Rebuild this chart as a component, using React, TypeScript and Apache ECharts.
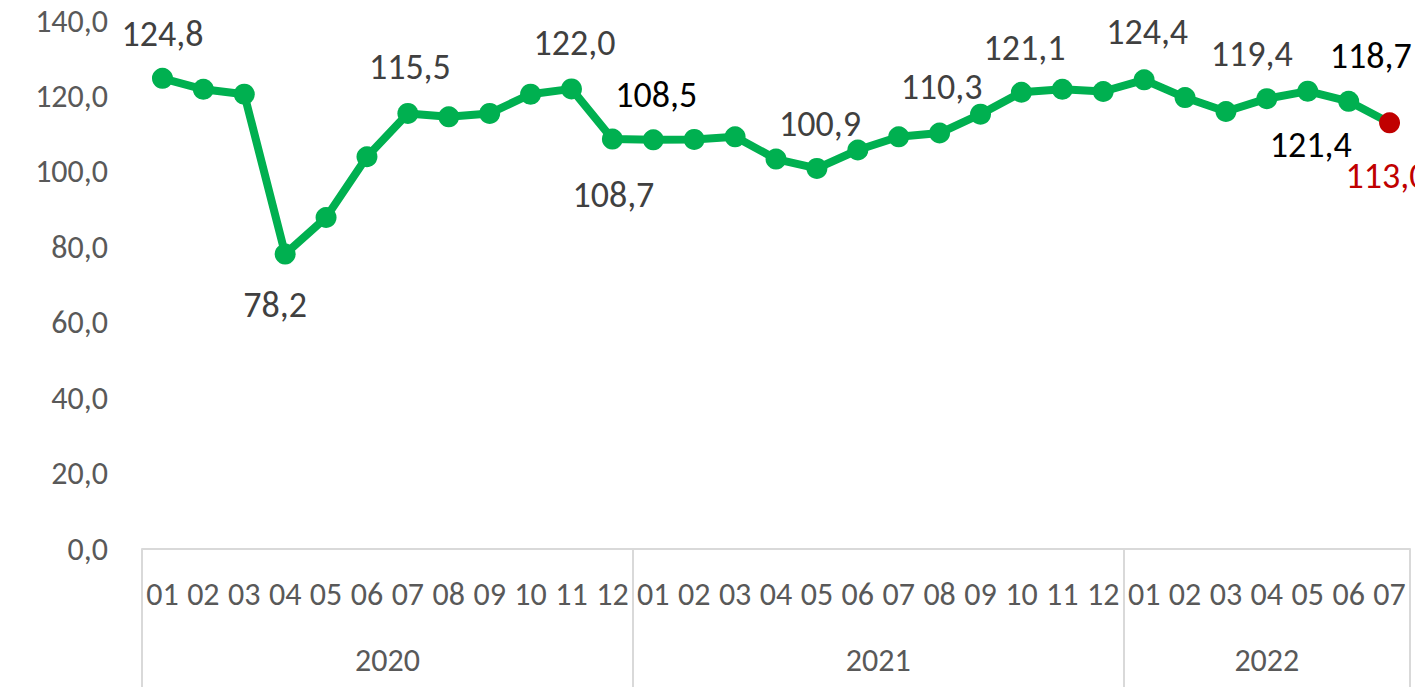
import React, { useEffect, useRef } from "react";
import * as echarts from "echarts";

const months: string[] = [
  "01", "02", "03", "04", "05", "06", "07", "08", "09", "10", "11", "12",
  "01", "02", "03", "04", "05", "06", "07", "08", "09", "10", "11", "12",
  "01", "02", "03", "04", "05", "06", "07",
];
const years: string[] = ["2020", "2021", "2022"];
const yearCounts: number[] = [12, 12, 7];
const values: number[] = [
  124.8, 121.9, 120.6, 78.2, 87.9, 104.0, 115.5, 114.6, 115.5, 120.6, 122.0, 108.7,
  108.5, 108.6, 109.3, 103.4, 100.9, 105.8, 109.3, 110.3, 115.3, 121.1, 121.9, 121.3,
  124.4, 119.7, 116.0, 119.4, 121.4, 118.7, 113.0,
];
const yTicks: number[] = [0, 20, 40, 60, 80, 100, 120, 140];

// label placement (style, not data)
const labelStyle: Record<number, { offset: [number, number]; color: string }> = {
  0: { offset: [0, -44], color: "#404040" },
  3: { offset: [-10, 51], color: "#404040" },
  6: { offset: [2, -46], color: "#404040" },
  10: { offset: [3, -46], color: "#404040" },
  11: { offset: [1, 56], color: "#404040" },
  12: { offset: [3, -45], color: "#000000" },
  16: { offset: [3, -44], color: "#404040" },
  19: { offset: [2, -46], color: "#404040" },
  21: { offset: [3, -44], color: "#404040" },
  24: { offset: [3, -48], color: "#404040" },
  27: { offset: [-15, -45], color: "#404040" },
  28: { offset: [3, 54], color: "#000000" },
  29: { offset: [22, -45], color: "#000000" },
  30: { offset: [-3, 53], color: "#C00000" },
};

const FONT = "Carlito, 'Open Sans', sans-serif";
const fmt = (v: number) => v.toFixed(1).replace(".", ",");

export default function App() {
  const ref = useRef<HTMLDivElement>(null);
  useEffect(() => {
    if (!ref.current) return;
    const chart = echarts.init(ref.current, undefined, { renderer: "svg" });

    const boundaries: number[] = [0];
    const mids: number[] = [];
    let acc = 0;
    yearCounts.forEach((c) => {
      mids.push(acc + c / 2);
      acc += c;
      boundaries.push(acc);
    });

    const lastIdx = values.length - 1;
    const seriesData = values.map((v, i) => {
      const ls = labelStyle[i];
      const item: any = { value: v };
      if (ls) {
        item.label = {
          show: true,
          position: "inside",
          offset: ls.offset,
          color: ls.color,
          fontSize: 36,
          fontFamily: FONT,
          formatter: (p: any) => fmt(p.value),
        };
      }
      if (i === lastIdx) {
        item.itemStyle = { color: "#C00000" };
      }
      return item;
    });

    chart.setOption({
      animation: false,
      backgroundColor: "#ffffff",
      grid: {
        left: 142,
        right: 5,
        top: 21,
        bottom: 138,
        containLabel: false,
        outerBoundsMode: "none",
      },
      xAxis: [
        {
          type: "category",
          data: months,
          boundaryGap: true,
          axisLine: { show: true, lineStyle: { color: "#D9D9D9", width: 2 } },
          axisTick: { show: false },
          axisLabel: {
            interval: 0,
            color: "#595959",
            fontSize: 32,
            fontFamily: FONT,
            margin: 29,
          },
          splitLine: { show: false },
        },
        {
          type: "value",
          position: "bottom",
          min: 0,
          max: acc,
          axisLine: { show: false },
          axisTick: {
            show: true,
            customValues: boundaries,
            length: 138,
            lineStyle: { color: "#D9D9D9", width: 2 },
          },
          axisLabel: {
            show: true,
            customValues: mids,
            color: "#595959",
            fontSize: 32,
            fontFamily: FONT,
            margin: 95,
            formatter: (v: number) => {
              const k = mids.findIndex((m) => Math.abs(m - v) < 1e-6);
              return k >= 0 ? years[k] : "";
            },
          },
          splitLine: { show: false },
        },
      ],
      yAxis: {
        type: "value",
        min: yTicks[0],
        max: yTicks[yTicks.length - 1],
        interval: 20,
        axisLine: { show: false },
        axisTick: { show: false },
        splitLine: { show: false },
        axisLabel: {
          color: "#595959",
          fontSize: 32,
          fontFamily: FONT,
          margin: 34,
          formatter: (v: number) => fmt(v),
        },
      },
      series: [
        {
          type: "line",
          xAxisIndex: 0,
          data: seriesData,
          symbol: "circle",
          symbolSize: 21,
          showAllSymbol: true,
          lineStyle: { color: "#00B050", width: 8 },
          itemStyle: { color: "#00B050" },
          label: { show: false },
          z: 3,
        },
      ],
    });
    return () => chart.dispose();
  }, []);
  return (
    <div
      ref={ref}
      style={{ position: "absolute", left: 0, top: 0, width: 1415, height: 687 }}
    />
  );
}
